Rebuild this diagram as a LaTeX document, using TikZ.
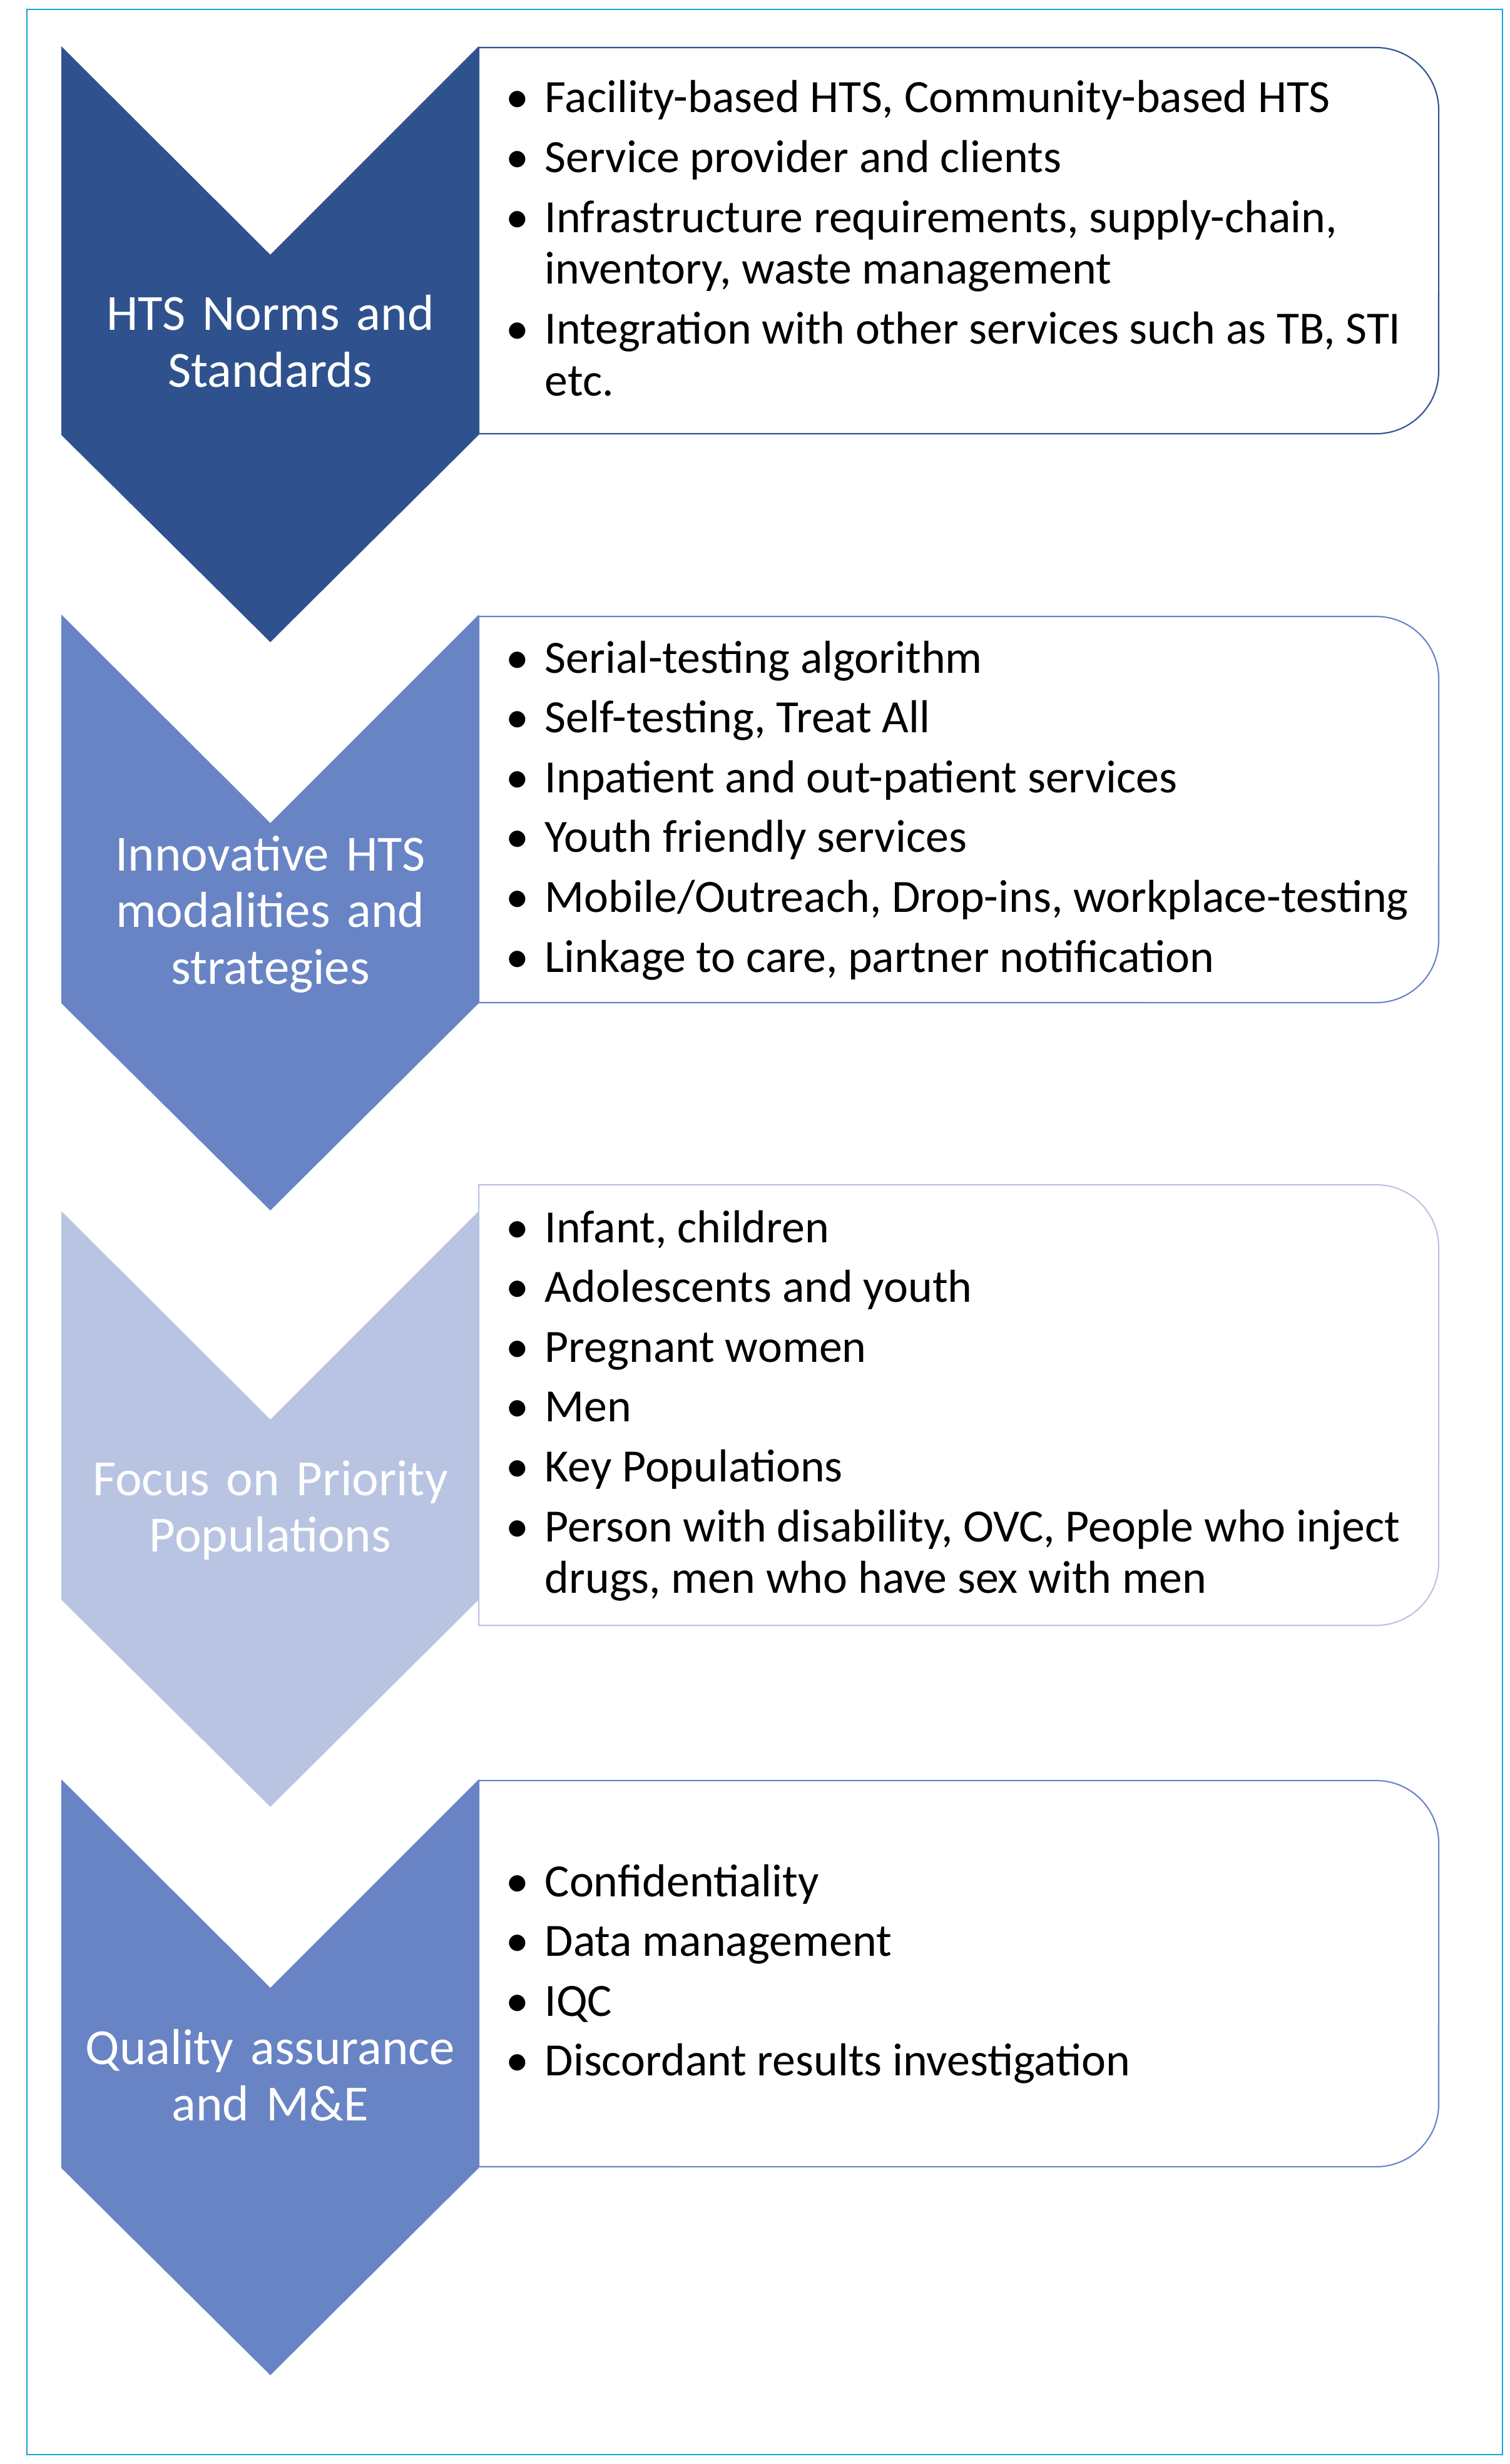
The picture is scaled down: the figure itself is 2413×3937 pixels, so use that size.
\documentclass[tikz,border=0pt]{standalone}
\usepackage{fontspec}
\setmainfont{Carlito}
\definecolor{chevDark}{RGB}{47,82,143}
\definecolor{chevMid}{RGB}{104,132,197}
\definecolor{chevLight}{RGB}{184,196,226}
\definecolor{frameBlue}{RGB}{25,160,215}
\newcommand{\entry}[1]{\par\hangindent=0.62cm\hangafter=1\noindent\makebox[0.62cm][l]{\textbullet}#1}
\newenvironment{bulletlist}{\begin{minipage}[t]{15cm}\fontsize{21}{23.5}\selectfont\parskip=3.7pt\raggedright}{\end{minipage}}

\begin{document}
\begin{tikzpicture}[x=0.01cm, y=-0.01cm,
  chevtext/.style={text=white, text width=6.6cm, align=center, inner sep=0pt, anchor=base, font=\fontsize{23}{25.8}\selectfont},
  itemtext/.style={inner sep=0pt, anchor=base west}]
  \useasboundingbox (0,0) rectangle (2413,3937);
  \draw[frameBlue, line width=0.6pt] (43,15) rectangle (2401,3922);
  % boxes on the right
  \foreach \t/\b/\c in {76/693/chevDark, 985/1602/chevMid, 1893/2597/chevLight, 2845/3462/chevMid}
    \draw[\c, line width=0.6pt, fill=white] (765,\t) -- (2199,\t) arc[start angle=90, end angle=0, radius=1cm]
      -- (2299,\b-100) arc[start angle=0, end angle=-90, radius=1cm] -- (765,\b) -- cycle;
  % chevrons on the left
  \foreach \y/\c in {74/chevDark, 982/chevMid, 1935/chevLight, 2843/chevMid}
    \fill[\c] (98,\y) -- (432,\y+333) -- (765,\y) -- (765,\y+621) -- (432,\y+952) -- (98,\y+621) -- cycle;

  \node[chevtext] (chevNorms) at (432,528) {HTS Norms and\\Standards};
  \node[chevtext] (chevModal) at (432,1391) {Innovative HTS\\modalities and\\strategies};
  \node[chevtext] (chevFocus) at (432,2389) {Focus on Priority\\Populations};
  \node[chevtext] (chevQual) at (432,3298) {Quality assurance\\and M\&E};

  \node[itemtext] (listNorms) at (808,180) {\begin{bulletlist}
    \entry{Facility-based HTS, Community-based HTS}
    \entry{Service provider and clients}
    \entry{Infrastructure requirements, supply-chain,\newline inventory, waste management}
    \entry{Integration with other services such as TB, STI\newline etc.}
  \end{bulletlist}};
  \node[itemtext] (listModal) at (808,1075) {\begin{bulletlist}
    \entry{Serial-testing algorithm}
    \entry{Self-testing, Treat All}
    \entry{Inpatient and out-patient services}
    \entry{Youth friendly services}
    \entry{Mobile/Outreach, Drop-ins, workplace-testing}
    \entry{Linkage to care, partner notification}
  \end{bulletlist}};
  \node[itemtext] (listFocus) at (808,1985) {\begin{bulletlist}
    \entry{Infant, children}
    \entry{Adolescents and youth}
    \entry{Pregnant women}
    \entry{Men}
    \entry{Key Populations}
    \entry{Person with disability, OVC, People who inject\newline drugs, men who have sex with men}
  \end{bulletlist}};
  \node[itemtext] (listQual) at (808,3030) {\begin{bulletlist}
    \entry{Confidentiality}
    \entry{Data management}
    \entry{IQC}
    \entry{Discordant results investigation}
  \end{bulletlist}};
\end{tikzpicture}
\end{document}
